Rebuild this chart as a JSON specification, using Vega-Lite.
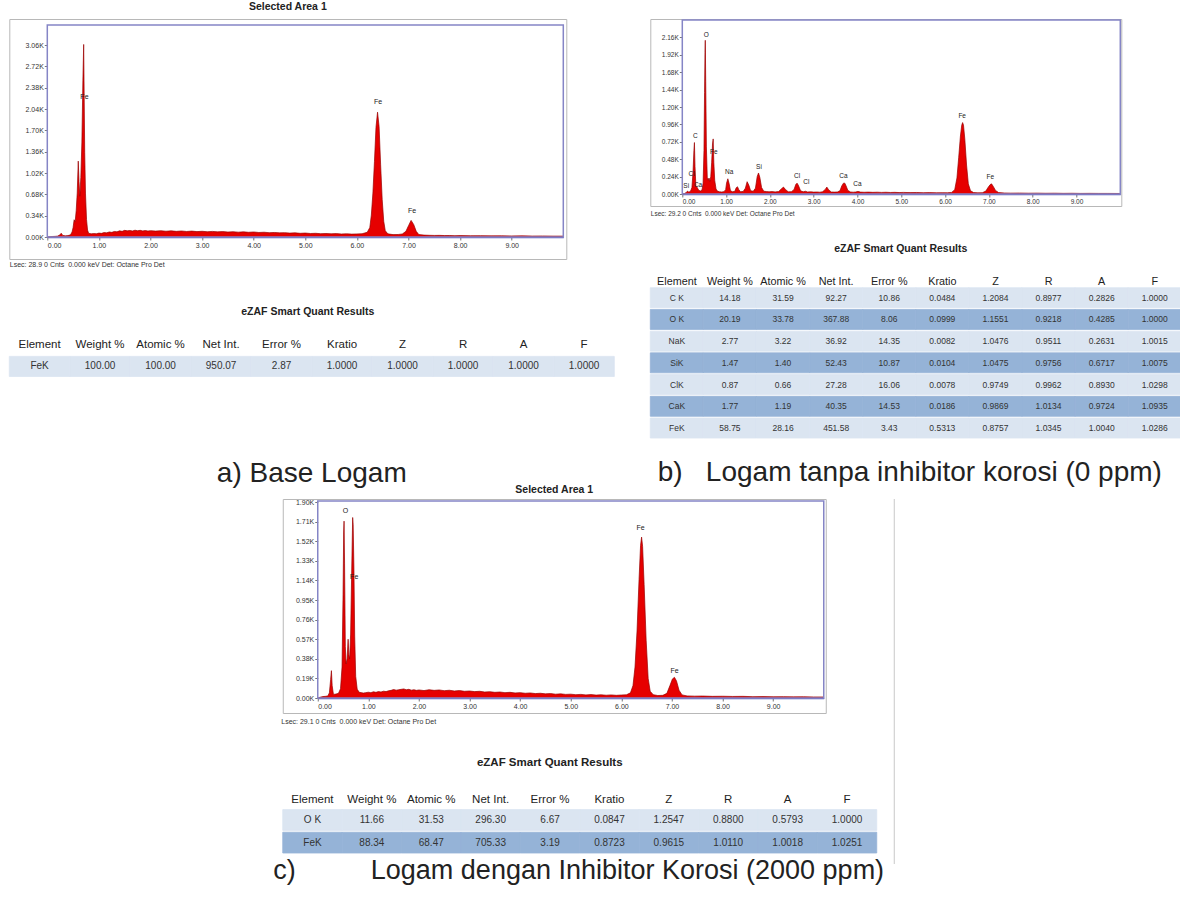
{
"$schema": "https://vega.github.io/schema/vega-lite/v6.json",
"background": "white",
"padding": {"left": 8, "top": 1, "right": 2, "bottom": 0},
"config": {
 "view": {"stroke": null},
 "font": "Liberation Sans",
 "axis": {"labelFont": "Liberation Sans", "titleFont": "Liberation Sans", "labelColor": "#333", "titleColor": "#333", "tickColor": "#777", "grid": false, "labelOverlap": false, "tickCount": 20},
 "title": {"font": "Liberation Sans", "color": "#222"},
 "text": {"font": "Liberation Sans"}
},
"datasets": {
 "specA": [{"e":0,"c":0},{"e":0.05,"c":4},{"e":0.1,"c":8},{"e":0.15,"c":10},{"e":0.2,"c":14},{"e":0.24,"c":30},{"e":0.27,"c":60},{"e":0.3,"c":25},{"e":0.35,"c":18},{"e":0.4,"c":22},{"e":0.45,"c":35},{"e":0.48,"c":80},{"e":0.5,"c":150},{"e":0.52,"c":275},{"e":0.54,"c":240},{"e":0.56,"c":420},{"e":0.58,"c":700},{"e":0.6,"c":1210},{"e":0.615,"c":880},{"e":0.63,"c":650},{"e":0.65,"c":950},{"e":0.67,"c":1500},{"e":0.69,"c":2500},{"e":0.705,"c":3070},{"e":0.715,"c":2200},{"e":0.725,"c":1350},{"e":0.74,"c":700},{"e":0.76,"c":280},{"e":0.78,"c":110},{"e":0.8,"c":60},{"e":0.85,"c":50},{"e":0.9,"c":55},{"e":0.95,"c":52},{"e":1.0,"c":62},{"e":1.05,"c":58},{"e":1.1,"c":70},{"e":1.15,"c":66},{"e":1.2,"c":80},{"e":1.25,"c":74},{"e":1.3,"c":88},{"e":1.35,"c":82},{"e":1.4,"c":98},{"e":1.45,"c":90},{"e":1.5,"c":106},{"e":1.55,"c":98},{"e":1.6,"c":104},{"e":1.65,"c":96},{"e":1.7,"c":108},{"e":1.75,"c":100},{"e":1.8,"c":106},{"e":1.85,"c":97},{"e":1.9,"c":103},{"e":1.95,"c":95},{"e":2.0,"c":101},{"e":2.1,"c":94},{"e":2.2,"c":100},{"e":2.3,"c":92},{"e":2.4,"c":98},{"e":2.5,"c":90},{"e":2.6,"c":96},{"e":2.7,"c":88},{"e":2.8,"c":94},{"e":2.9,"c":86},{"e":3.0,"c":91},{"e":3.1,"c":84},{"e":3.2,"c":89},{"e":3.3,"c":82},{"e":3.4,"c":86},{"e":3.5,"c":79},{"e":3.6,"c":84},{"e":3.7,"c":77},{"e":3.8,"c":82},{"e":3.9,"c":75},{"e":4.0,"c":80},{"e":4.1,"c":72},{"e":4.2,"c":76},{"e":4.3,"c":69},{"e":4.4,"c":72},{"e":4.5,"c":66},{"e":4.6,"c":69},{"e":4.7,"c":62},{"e":4.8,"c":66},{"e":4.9,"c":59},{"e":5.0,"c":63},{"e":5.1,"c":56},{"e":5.2,"c":59},{"e":5.3,"c":53},{"e":5.4,"c":56},{"e":5.5,"c":51},{"e":5.6,"c":54},{"e":5.7,"c":48},{"e":5.8,"c":51},{"e":5.9,"c":46},{"e":6.0,"c":49},{"e":6.1,"c":52},{"e":6.2,"c":75},{"e":6.25,"c":150},{"e":6.28,"c":350},{"e":6.31,"c":700},{"e":6.34,"c":1200},{"e":6.37,"c":1750},{"e":6.4,"c":1990},{"e":6.43,"c":1760},{"e":6.46,"c":1150},{"e":6.49,"c":600},{"e":6.52,"c":250},{"e":6.55,"c":100},{"e":6.6,"c":50},{"e":6.7,"c":38},{"e":6.8,"c":40},{"e":6.88,"c":48},{"e":6.95,"c":90},{"e":7.0,"c":180},{"e":7.05,"c":265},{"e":7.1,"c":200},{"e":7.15,"c":90},{"e":7.2,"c":38},{"e":7.3,"c":30},{"e":7.4,"c":27},{"e":7.5,"c":25},{"e":7.6,"c":26},{"e":7.7,"c":23},{"e":7.8,"c":24},{"e":7.9,"c":21},{"e":8.0,"c":23},{"e":8.2,"c":20},{"e":8.4,"c":21},{"e":8.6,"c":18},{"e":8.8,"c":19},{"e":9.0,"c":17},{"e":9.2,"c":18},{"e":9.4,"c":15},{"e":9.6,"c":16},{"e":9.8,"c":14},{"e":10.0,"c":14}],
 "specB": [{"e":0,"c":0},{"e":0.05,"c":6},{"e":0.09,"c":20},{"e":0.12,"c":40},{"e":0.15,"c":25},{"e":0.19,"c":40},{"e":0.22,"c":90},{"e":0.245,"c":300},{"e":0.265,"c":600},{"e":0.277,"c":710},{"e":0.29,"c":380},{"e":0.31,"c":110},{"e":0.34,"c":90},{"e":0.37,"c":55},{"e":0.41,"c":40},{"e":0.45,"c":55},{"e":0.475,"c":150},{"e":0.495,"c":600},{"e":0.508,"c":1400},{"e":0.518,"c":1950},{"e":0.525,"c":2120},{"e":0.535,"c":1550},{"e":0.55,"c":650},{"e":0.57,"c":230},{"e":0.59,"c":190},{"e":0.61,"c":220},{"e":0.63,"c":175},{"e":0.65,"c":240},{"e":0.67,"c":430},{"e":0.69,"c":690},{"e":0.705,"c":760},{"e":0.72,"c":430},{"e":0.74,"c":190},{"e":0.77,"c":70},{"e":0.8,"c":40},{"e":0.85,"c":30},{"e":0.9,"c":28},{"e":0.95,"c":32},{"e":0.99,"c":60},{"e":1.01,"c":150},{"e":1.04,"c":210},{"e":1.07,"c":140},{"e":1.1,"c":45},{"e":1.15,"c":30},{"e":1.2,"c":38},{"e":1.23,"c":85},{"e":1.26,"c":100},{"e":1.29,"c":60},{"e":1.33,"c":32},{"e":1.39,"c":35},{"e":1.44,"c":80},{"e":1.48,"c":170},{"e":1.52,"c":120},{"e":1.56,"c":45},{"e":1.62,"c":38},{"e":1.67,"c":80},{"e":1.71,"c":240},{"e":1.74,"c":290},{"e":1.77,"c":230},{"e":1.81,"c":90},{"e":1.86,"c":38},{"e":1.92,"c":34},{"e":1.98,"c":30},{"e":2.05,"c":33},{"e":2.12,"c":29},{"e":2.2,"c":34},{"e":2.26,"c":70},{"e":2.31,"c":95},{"e":2.36,"c":60},{"e":2.42,"c":30},{"e":2.49,"c":32},{"e":2.55,"c":60},{"e":2.59,"c":130},{"e":2.62,"c":150},{"e":2.65,"c":120},{"e":2.7,"c":45},{"e":2.76,"c":30},{"e":2.81,"c":38},{"e":2.86,"c":28},{"e":2.93,"c":30},{"e":3.0,"c":26},{"e":3.07,"c":28},{"e":3.14,"c":25},{"e":3.2,"c":30},{"e":3.26,"c":60},{"e":3.3,"c":95},{"e":3.34,"c":60},{"e":3.4,"c":28},{"e":3.47,"c":26},{"e":3.54,"c":28},{"e":3.6,"c":45},{"e":3.64,"c":110},{"e":3.68,"c":150},{"e":3.71,"c":150},{"e":3.74,"c":110},{"e":3.78,"c":50},{"e":3.84,"c":28},{"e":3.9,"c":25},{"e":3.96,"c":28},{"e":4.01,"c":36},{"e":4.07,"c":26},{"e":4.15,"c":24},{"e":4.25,"c":26},{"e":4.35,"c":23},{"e":4.45,"c":25},{"e":4.55,"c":22},{"e":4.65,"c":24},{"e":4.75,"c":21},{"e":4.85,"c":23},{"e":4.95,"c":20},{"e":5.05,"c":22},{"e":5.2,"c":19},{"e":5.35,"c":21},{"e":5.5,"c":18},{"e":5.65,"c":19},{"e":5.8,"c":17},{"e":5.95,"c":18},{"e":6.05,"c":17},{"e":6.15,"c":22},{"e":6.22,"c":60},{"e":6.27,"c":220},{"e":6.31,"c":500},{"e":6.35,"c":800},{"e":6.38,"c":950},{"e":6.4,"c":985},{"e":6.42,"c":950},{"e":6.45,"c":760},{"e":6.49,"c":400},{"e":6.53,"c":140},{"e":6.58,"c":45},{"e":6.65,"c":20},{"e":6.75,"c":16},{"e":6.85,"c":18},{"e":6.93,"c":40},{"e":6.98,"c":90},{"e":7.03,"c":130},{"e":7.06,"c":140},{"e":7.1,"c":105},{"e":7.15,"c":50},{"e":7.22,"c":20},{"e":7.35,"c":14},{"e":7.5,"c":12},{"e":7.7,"c":13},{"e":7.9,"c":11},{"e":8.1,"c":12},{"e":8.3,"c":10},{"e":8.5,"c":11},{"e":8.7,"c":9},{"e":8.9,"c":10},{"e":9.1,"c":8},{"e":9.3,"c":9},{"e":9.5,"c":8},{"e":9.7,"c":8},{"e":10.0,"c":7}],
 "specC": [{"e":0,"c":0},{"e":0.05,"c":8},{"e":0.1,"c":14},{"e":0.15,"c":16},{"e":0.2,"c":20},{"e":0.23,"c":50},{"e":0.255,"c":180},{"e":0.27,"c":265},{"e":0.285,"c":120},{"e":0.31,"c":35},{"e":0.36,"c":38},{"e":0.41,"c":45},{"e":0.45,"c":90},{"e":0.48,"c":300},{"e":0.5,"c":1000},{"e":0.512,"c":1600},{"e":0.52,"c":1715},{"e":0.53,"c":1300},{"e":0.545,"c":500},{"e":0.56,"c":330},{"e":0.58,"c":380},{"e":0.6,"c":570},{"e":0.615,"c":420},{"e":0.63,"c":380},{"e":0.65,"c":620},{"e":0.67,"c":1200},{"e":0.69,"c":1750},{"e":0.7,"c":1680},{"e":0.715,"c":1250},{"e":0.73,"c":600},{"e":0.75,"c":210},{"e":0.78,"c":85},{"e":0.82,"c":55},{"e":0.9,"c":48},{"e":0.95,"c":52},{"e":1.0,"c":56},{"e":1.05,"c":52},{"e":1.1,"c":60},{"e":1.15,"c":55},{"e":1.2,"c":62},{"e":1.25,"c":58},{"e":1.3,"c":66},{"e":1.35,"c":62},{"e":1.4,"c":70},{"e":1.45,"c":74},{"e":1.5,"c":82},{"e":1.55,"c":76},{"e":1.6,"c":80},{"e":1.65,"c":84},{"e":1.7,"c":88},{"e":1.75,"c":80},{"e":1.8,"c":84},{"e":1.85,"c":76},{"e":1.9,"c":80},{"e":1.95,"c":74},{"e":2.0,"c":78},{"e":2.1,"c":72},{"e":2.2,"c":80},{"e":2.3,"c":74},{"e":2.4,"c":78},{"e":2.5,"c":71},{"e":2.6,"c":75},{"e":2.7,"c":68},{"e":2.8,"c":72},{"e":2.9,"c":65},{"e":3.0,"c":68},{"e":3.1,"c":62},{"e":3.2,"c":65},{"e":3.3,"c":58},{"e":3.4,"c":61},{"e":3.5,"c":55},{"e":3.6,"c":58},{"e":3.7,"c":52},{"e":3.8,"c":55},{"e":3.9,"c":49},{"e":4.0,"c":52},{"e":4.1,"c":46},{"e":4.2,"c":49},{"e":4.3,"c":43},{"e":4.4,"c":46},{"e":4.5,"c":40},{"e":4.6,"c":43},{"e":4.7,"c":37},{"e":4.8,"c":40},{"e":4.9,"c":35},{"e":5.0,"c":37},{"e":5.1,"c":32},{"e":5.2,"c":35},{"e":5.3,"c":30},{"e":5.4,"c":33},{"e":5.5,"c":28},{"e":5.6,"c":31},{"e":5.7,"c":27},{"e":5.8,"c":30},{"e":5.9,"c":26},{"e":6.0,"c":29},{"e":6.1,"c":31},{"e":6.18,"c":50},{"e":6.23,"c":120},{"e":6.27,"c":300},{"e":6.31,"c":650},{"e":6.35,"c":1150},{"e":6.38,"c":1480},{"e":6.4,"c":1560},{"e":6.42,"c":1470},{"e":6.45,"c":1100},{"e":6.49,"c":560},{"e":6.53,"c":190},{"e":6.57,"c":65},{"e":6.63,"c":32},{"e":6.72,"c":24},{"e":6.82,"c":26},{"e":6.9,"c":45},{"e":6.96,"c":120},{"e":7.01,"c":185},{"e":7.05,"c":200},{"e":7.09,"c":165},{"e":7.14,"c":75},{"e":7.2,"c":30},{"e":7.3,"c":20},{"e":7.45,"c":18},{"e":7.6,"c":19},{"e":7.8,"c":16},{"e":8.0,"c":17},{"e":8.2,"c":15},{"e":8.4,"c":16},{"e":8.6,"c":13},{"e":8.8,"c":14},{"e":9.0,"c":12},{"e":9.2,"c":13},{"e":9.4,"c":11},{"e":9.6,"c":12},{"e":9.8,"c":10},{"e":10.0,"c":10}],
 "labA": [{"e":0.72,"c":2230,"t":"Fe"},{"e":6.41,"c":2150,"t":"Fe"},{"e":7.07,"c":410,"t":"Fe"}],
 "labB": [{"e":0.09,"c":110,"t":"Si"},{"e":0.21,"c":280,"t":"Cl"},{"e":0.36,"c":130,"t":"Ca"},{"e":0.3,"c":800,"t":"C"},{"e":0.55,"c":2200,"t":"O"},{"e":0.72,"c":580,"t":"Fe"},{"e":1.07,"c":300,"t":"Na"},{"e":1.75,"c":375,"t":"Si"},{"e":2.62,"c":250,"t":"Cl"},{"e":2.83,"c":160,"t":"Cl"},{"e":3.68,"c":250,"t":"Ca"},{"e":4.0,"c":140,"t":"Ca"},{"e":6.39,"c":1070,"t":"Fe"},{"e":7.03,"c":230,"t":"Fe"}],
 "labC": [{"e":0.55,"c":1810,"t":"O"},{"e":0.72,"c":1170,"t":"Fe"},{"e":6.38,"c":1650,"t":"Fe"},{"e":7.05,"c":260,"t":"Fe"}],
 "frame": [{}],
 "hdr": [{"key":"el","label":"Element"},{"key":"wt","label":"Weight %"},{"key":"at","label":"Atomic %"},{"key":"ni","label":"Net Int."},{"key":"er","label":"Error %"},{"key":"kr","label":"Kratio"},{"key":"zz","label":"Z"},{"key":"rr","label":"R"},{"key":"aa","label":"A"},{"key":"ff","label":"F"}],
 "tabA": [{"row":"r1","s":"light","el":"FeK","wt":"100.00","at":"100.00","ni":"950.07","er":"2.87","kr":"1.0000","zz":"1.0000","rr":"1.0000","aa":"1.0000","ff":"1.0000"}],
 "tabB": [
  {"row":"r1","s":"light","el":"C K","wt":"14.18","at":"31.59","ni":"92.27","er":"10.86","kr":"0.0484","zz":"1.2084","rr":"0.8977","aa":"0.2826","ff":"1.0000"},
  {"row":"r2","s":"dark","el":"O K","wt":"20.19","at":"33.78","ni":"367.88","er":"8.06","kr":"0.0999","zz":"1.1551","rr":"0.9218","aa":"0.4285","ff":"1.0000"},
  {"row":"r3","s":"light","el":"NaK","wt":"2.77","at":"3.22","ni":"36.92","er":"14.35","kr":"0.0082","zz":"1.0476","rr":"0.9511","aa":"0.2631","ff":"1.0015"},
  {"row":"r4","s":"dark","el":"SiK","wt":"1.47","at":"1.40","ni":"52.43","er":"10.87","kr":"0.0104","zz":"1.0475","rr":"0.9756","aa":"0.6717","ff":"1.0075"},
  {"row":"r5","s":"light","el":"ClK","wt":"0.87","at":"0.66","ni":"27.28","er":"16.06","kr":"0.0078","zz":"0.9749","rr":"0.9962","aa":"0.8930","ff":"1.0298"},
  {"row":"r6","s":"dark","el":"CaK","wt":"1.77","at":"1.19","ni":"40.35","er":"14.53","kr":"0.0186","zz":"0.9869","rr":"1.0134","aa":"0.9724","ff":"1.0935"},
  {"row":"r7","s":"light","el":"FeK","wt":"58.75","at":"28.16","ni":"451.58","er":"3.43","kr":"0.5313","zz":"0.8757","rr":"1.0345","aa":"1.0040","ff":"1.0286"}],
 "tabC": [
  {"row":"r1","s":"light","el":"O K","wt":"11.66","at":"31.53","ni":"296.30","er":"6.67","kr":"0.0847","zz":"1.2547","rr":"0.8800","aa":"0.5793","ff":"1.0000"},
  {"row":"r2","s":"dark","el":"FeK","wt":"88.34","at":"68.47","ni":"705.33","er":"3.19","kr":"0.8723","zz":"0.9615","rr":"1.0110","aa":"1.0018","ff":"1.0251"}]
},
"vconcat": [
 {"hconcat": [
  {"vconcat": [
   {"width": 557, "height": 240,
    "view": {"stroke": "#b8b8b8", "strokeWidth": 1},
    "title": {"text": "Selected Area 1", "fontSize": 10.5, "fontWeight": "bold", "offset": 6.5, "anchor": "middle"},
    "layer": [
     {"data": {"name": "specA"}, "mark": {"type": "area", "fill": "#e60000", "opacity": 1, "line": {"stroke": "#990000", "strokeWidth": 0.7}, "clip": true},
      "encoding": {
       "x": {"field": "e", "type": "quantitative", "scale": {"domain": [0, 10], "range": [38, 554], "nice": false, "zero": false},
             "axis": {"values": [0,1,2,3,4,5,6,7,8,9], "format": ".2f", "labelFontSize": 7, "tickSize": 3, "labelPadding": 1, "labelOverlap": false, "tickCount": 20, "offset": -22, "domainColor": "#5c5cc0", "domainWidth": 1.5,
                      "title": "Lsec: 28.9 0 Cnts\u00a0 0.000 keV Det: Octane Pro Det", "titleFontSize": 7, "titleFontWeight": "normal", "titleAnchor": "start", "titleAlign": "left", "titleX": 0, "titleY": 27, "titleBaseline": "middle"}},
       "y": {"field": "c", "type": "quantitative", "scale": {"domain": [0, 3380], "range": [218, 6], "nice": false},
             "axis": {"values": [0,340,680,1020,1360,1700,2040,2380,2720,3060], "labelExpr": "format(datum.value/1000,'.2f')+'K'", "labelFontSize": 7, "tickSize": 3, "labelPadding": 1, "labelOverlap": false, "tickCount": 20, "offset": -38, "domain": false, "title": null}}}},
     {"data": {"name": "frame"}, "mark": {"type": "rect", "filled": false, "stroke": "#8585c6", "strokeWidth": 1.5},
      "encoding": {"x": {"datum": 0, "type": "quantitative"}, "x2": {"datum": 10}, "y": {"datum": 0, "type": "quantitative"}, "y2": {"datum": 3380}}},
     {"data": {"name": "labA"}, "mark": {"type": "text", "fontSize": 7, "color": "#222"},
      "encoding": {"x": {"field": "e", "type": "quantitative"}, "y": {"field": "c", "type": "quantitative"}, "text": {"field": "t"}}}
    ]},
   {"width": 605, "height": 42,
    "title": {"text": "eZAF Smart Quant Results", "fontSize": 10.5, "fontWeight": "bold", "offset": 17, "anchor": "middle", "dx": -4},
    "layer": [
     {"data": {"name": "tabA"}, "transform": [{"fold": ["el","wt","at","ni","er","kr","zz","rr","aa","ff"], "as": ["key","val"]}],
      "mark": {"type": "rect", "strokeWidth": 0.8},
      "encoding": {
       "x": {"field": "key", "type": "nominal", "scale": {"domain": ["el","wt","at","ni","er","kr","zz","rr","aa","ff"], "paddingInner": 0, "paddingOuter": 0}, "axis": null},
       "y": {"field": "row", "type": "nominal", "scale": {"domain": ["h","r1"], "paddingInner": 0.08, "paddingOuter": 0}, "axis": null},
       "fill": {"field": "s", "type": "nominal", "scale": {"domain": ["light","dark"], "range": ["#dbe5f1","#95b3d7"]}, "legend": null},
       "stroke": {"field": "s", "type": "nominal", "scale": {"domain": ["light","dark"], "range": ["#dbe5f1","#95b3d7"]}, "legend": null}}},
     {"data": {"name": "tabA"}, "transform": [{"fold": ["el","wt","at","ni","er","kr","zz","rr","aa","ff"], "as": ["key","val"]}],
      "mark": {"type": "text", "fontSize": 10, "color": "#333"},
      "encoding": {"x": {"field": "key", "type": "nominal"}, "y": {"field": "row", "type": "nominal"}, "text": {"field": "val"}}},
     {"data": {"name": "hdr"}, "mark": {"type": "text", "fontSize": 11.5, "color": "#222"},
      "encoding": {"x": {"field": "key", "type": "nominal"}, "y": {"datum": "h", "type": "nominal"}, "text": {"field": "label"}}}
    ]}
  ],
  "spacing": 38.5,
  "title": {"text": "a) Base Logam", "orient": "bottom", "fontSize": 28, "fontWeight": "normal", "offset": 83, "anchor": "middle"}},
  {"vconcat": [
   {"width": 471, "height": 187,
    "view": {"stroke": "#b8b8b8", "strokeWidth": 1},
    "layer": [
     {"data": {"name": "specB"}, "mark": {"type": "area", "fill": "#e60000", "opacity": 1, "line": {"stroke": "#990000", "strokeWidth": 0.7}, "clip": true},
      "encoding": {
       "x": {"field": "e", "type": "quantitative", "scale": {"domain": [0, 10], "range": [32, 470], "nice": false, "zero": false},
             "axis": {"values": [0,1,2,3,4,5,6,7,8,9], "format": ".2f", "labelFontSize": 6.5, "tickSize": 3, "labelPadding": 1, "labelOverlap": false, "tickCount": 20, "offset": -12, "domainColor": "#5c5cc0", "domainWidth": 1.5,
                      "title": "Lsec: 29.2 0 Cnts\u00a0 0.000 keV Det: Octane Pro Det", "titleFontSize": 6.5, "titleFontWeight": "normal", "titleAnchor": "start", "titleAlign": "left", "titleX": 0, "titleY": 19, "titleBaseline": "middle"}},
       "y": {"field": "c", "type": "quantitative", "scale": {"domain": [0, 2400], "range": [175, 1], "nice": false},
             "axis": {"values": [0,240,480,720,960,1200,1440,1680,1920,2160], "labelExpr": "format(datum.value/1000,'.2f')+'K'", "labelFontSize": 6.5, "tickSize": 3, "labelPadding": 1, "labelOverlap": false, "tickCount": 20, "offset": -32, "domain": false, "title": null}}}},
     {"data": {"name": "frame"}, "mark": {"type": "rect", "filled": false, "stroke": "#8585c6", "strokeWidth": 1.5},
      "encoding": {"x": {"datum": 0, "type": "quantitative"}, "x2": {"datum": 10}, "y": {"datum": 0, "type": "quantitative"}, "y2": {"datum": 2400}}},
     {"data": {"name": "labB"}, "mark": {"type": "text", "fontSize": 6.5, "color": "#222"},
      "encoding": {"x": {"field": "e", "type": "quantitative"}, "y": {"field": "c", "type": "quantitative"}, "text": {"field": "t"}}}
    ]},
   {"width": 531, "height": 172,
    "title": {"text": "eZAF Smart Quant Results", "fontSize": 10.5, "fontWeight": "bold", "offset": 11.5, "anchor": "middle", "dx": -15},
    "layer": [
     {"data": {"name": "tabB"}, "transform": [{"fold": ["el","wt","at","ni","er","kr","zz","rr","aa","ff"], "as": ["key","val"]}],
      "mark": {"type": "rect", "strokeWidth": 0.8},
      "encoding": {
       "x": {"field": "key", "type": "nominal", "scale": {"domain": ["el","wt","at","ni","er","kr","zz","rr","aa","ff"], "paddingInner": 0, "paddingOuter": 0}, "axis": null},
       "y": {"field": "row", "type": "nominal", "scale": {"domain": ["h","r1","r2","r3","r4","r5","r6","r7"], "paddingInner": 0.08, "paddingOuter": 0}, "axis": null},
       "fill": {"field": "s", "type": "nominal", "scale": {"domain": ["light","dark"], "range": ["#dbe5f1","#95b3d7"]}, "legend": null},
       "stroke": {"field": "s", "type": "nominal", "scale": {"domain": ["light","dark"], "range": ["#dbe5f1","#95b3d7"]}, "legend": null}}},
     {"data": {"name": "tabB"}, "transform": [{"fold": ["el","wt","at","ni","er","kr","zz","rr","aa","ff"], "as": ["key","val"]}],
      "mark": {"type": "text", "fontSize": 8.5, "color": "#333"},
      "encoding": {"x": {"field": "key", "type": "nominal"}, "y": {"field": "row", "type": "nominal"}, "text": {"field": "val"}}},
     {"data": {"name": "hdr"}, "mark": {"type": "text", "fontSize": 10.8, "color": "#222", "dy": 6},
      "encoding": {"x": {"field": "key", "type": "nominal"}, "y": {"datum": "h", "type": "nominal"}, "text": {"field": "label"}}}
    ]}
  ],
  "spacing": 27,
  "title": {"text": "b)\u00a0\u00a0 Logam tanpa inhibitor korosi (0 ppm)", "orient": "bottom", "fontSize": 28, "fontWeight": "normal", "offset": 21, "anchor": "middle", "dx": -6}}
 ], "spacing": 34},
 {"hconcat": [
  {"vconcat": [
   {"width": 543, "height": 214,
    "view": {"stroke": "#b8b8b8", "strokeWidth": 1},
    "title": {"text": "Selected Area 1", "fontSize": 10.5, "fontWeight": "bold", "offset": 3, "anchor": "middle"},
    "layer": [
     {"data": {"name": "specC"}, "mark": {"type": "area", "fill": "#e60000", "opacity": 1, "line": {"stroke": "#990000", "strokeWidth": 0.7}, "clip": true},
      "encoding": {
       "x": {"field": "e", "type": "quantitative", "scale": {"domain": [0, 10], "range": [35, 541], "nice": false, "zero": false},
             "axis": {"values": [0,1,2,3,4,5,6,7,8,9], "format": ".2f", "labelFontSize": 7, "tickSize": 3, "labelPadding": 1, "labelOverlap": false, "tickCount": 20, "offset": -15, "domainColor": "#5c5cc0", "domainWidth": 1.5,
                      "title": "Lsec: 29.1 0 Cnts\u00a0 0.000 keV Det: Octane Pro Det", "titleFontSize": 7, "titleFontWeight": "normal", "titleAnchor": "start", "titleAlign": "left", "titleX": -2, "titleY": 23, "titleBaseline": "middle"}},
       "y": {"field": "c", "type": "quantitative", "scale": {"domain": [0, 1910], "range": [199, 2], "nice": false},
             "axis": {"values": [0,190,380,570,760,950,1140,1330,1520,1710,1900], "labelExpr": "format(datum.value/1000,'.2f')+'K'", "labelFontSize": 7, "tickSize": 3, "labelPadding": 1, "labelOverlap": false, "tickCount": 20, "offset": -35, "domain": false, "title": null}}}},
     {"data": {"name": "frame"}, "mark": {"type": "rect", "filled": false, "stroke": "#8585c6", "strokeWidth": 1.5},
      "encoding": {"x": {"datum": 0, "type": "quantitative"}, "x2": {"datum": 10}, "y": {"datum": 0, "type": "quantitative"}, "y2": {"datum": 1910}}},
     {"data": {"name": "labC"}, "mark": {"type": "text", "fontSize": 7, "color": "#222"},
      "encoding": {"x": {"field": "e", "type": "quantitative"}, "y": {"field": "c", "type": "quantitative"}, "text": {"field": "t"}}}
    ]},
   {"width": 594, "height": 66,
    "title": {"text": "eZAF Smart Quant Results", "fontSize": 11.5, "fontWeight": "bold", "offset": 18.75, "anchor": "middle", "dx": -30},
    "layer": [
     {"data": {"name": "tabC"}, "transform": [{"fold": ["el","wt","at","ni","er","kr","zz","rr","aa","ff"], "as": ["key","val"]}],
      "mark": {"type": "rect", "strokeWidth": 0.8},
      "encoding": {
       "x": {"field": "key", "type": "nominal", "scale": {"domain": ["el","wt","at","ni","er","kr","zz","rr","aa","ff"], "paddingInner": 0, "paddingOuter": 0}, "axis": null},
       "y": {"field": "row", "type": "nominal", "scale": {"domain": ["h","r1","r2"], "paddingInner": 0.08, "paddingOuter": 0}, "axis": null},
       "fill": {"field": "s", "type": "nominal", "scale": {"domain": ["light","dark"], "range": ["#dbe5f1","#95b3d7"]}, "legend": null},
       "stroke": {"field": "s", "type": "nominal", "scale": {"domain": ["light","dark"], "range": ["#dbe5f1","#95b3d7"]}, "legend": null}}},
     {"data": {"name": "tabC"}, "transform": [{"fold": ["el","wt","at","ni","er","kr","zz","rr","aa","ff"], "as": ["key","val"]}],
      "mark": {"type": "text", "fontSize": 10, "color": "#333"},
      "encoding": {"x": {"field": "key", "type": "nominal"}, "y": {"field": "row", "type": "nominal"}, "text": {"field": "val"}}},
     {"data": {"name": "hdr"}, "mark": {"type": "text", "fontSize": 11.5, "color": "#222", "dy": 3},
      "encoding": {"x": {"field": "key", "type": "nominal"}, "y": {"datum": "h", "type": "nominal"}, "text": {"field": "label"}}}
    ]}
  ],
  "spacing": 31,
  "title": {"text": "c)\u00a0\u00a0\u00a0\u00a0\u00a0\u00a0\u00a0\u00a0\u00a0 Logam dengan Inhibitor Korosi (2000 ppm)", "orient": "bottom", "fontSize": 27, "fontWeight": "normal", "offset": 5, "anchor": "middle"}},
  {"width": 14, "height": 365, "data": {"name": "frame"},
   "mark": {"type": "rule", "color": "#c8c8c8", "strokeWidth": 1},
   "encoding": {"x": {"datum": 0, "type": "quantitative", "scale": {"domain": [0, 1]}, "axis": null}}}
 ], "spacing": 8.5}
],
"spacing": -4,
"center": true
}
